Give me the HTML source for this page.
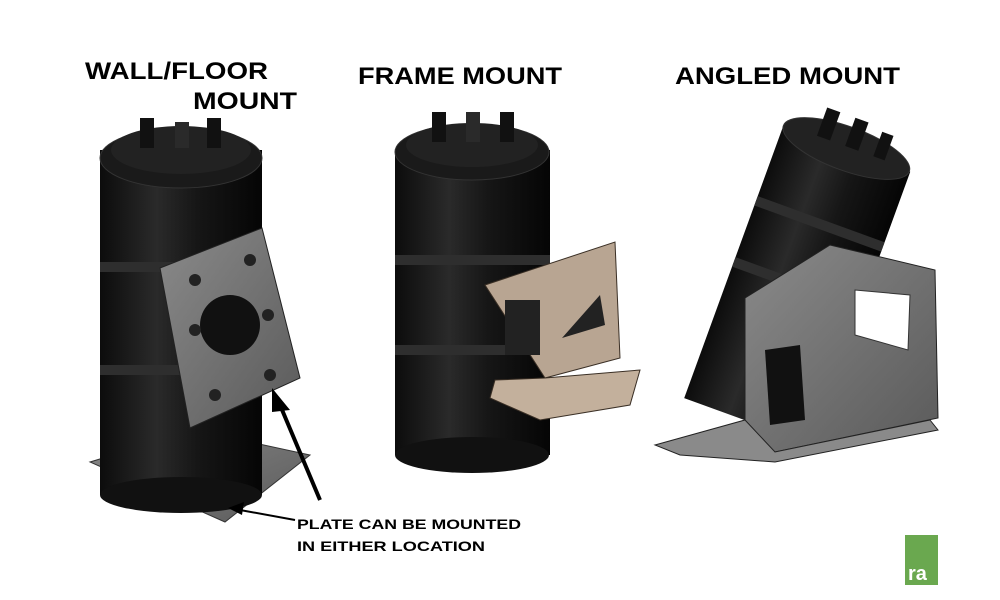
<!DOCTYPE html>
<html><head><style>
html,body{margin:0;padding:0;background:#fff;}
svg{display:block}
.t{font-family:"Liberation Sans",sans-serif;font-weight:bold;fill:#000}
</style></head><body>
<svg width="1000" height="600" viewBox="0 0 1000 600" xmlns="http://www.w3.org/2000/svg">
<defs>
<linearGradient id="cyl" x1="0" x2="1" y1="0" y2="0">
<stop offset="0" stop-color="#0c0c0c"/><stop offset="0.35" stop-color="#2a2a2a"/><stop offset="0.6" stop-color="#161616"/><stop offset="1" stop-color="#050505"/>
</linearGradient>
<linearGradient id="gray" x1="0" x2="1" y1="0" y2="1">
<stop offset="0" stop-color="#8a8a8a"/><stop offset="1" stop-color="#5a5a5a"/>
</linearGradient>
</defs>
<rect width="1000" height="600" fill="#fff"/>
<text class="t" x="85" y="79" font-size="24" textLength="183" lengthAdjust="spacingAndGlyphs">WALL/FLOOR</text>
<text class="t" x="193" y="109" font-size="24" textLength="104" lengthAdjust="spacingAndGlyphs">MOUNT</text>
<text class="t" x="358" y="84" font-size="24" textLength="204" lengthAdjust="spacingAndGlyphs">FRAME MOUNT</text>
<text class="t" x="675" y="84" font-size="24" textLength="225" lengthAdjust="spacingAndGlyphs">ANGLED MOUNT</text>

<!-- Cylinder 1 -->
<polygon points="90,462 195,430 310,455 225,522" fill="url(#gray)" stroke="#333"/>
<rect x="100" y="150" width="162" height="345" fill="url(#cyl)"/>
<ellipse cx="181" cy="495" rx="81" ry="18" fill="#111"/>
<ellipse cx="181" cy="158" rx="81" ry="30" fill="#1a1a1a" stroke="#333"/>
<ellipse cx="181" cy="150" rx="70" ry="24" fill="#222"/>
<rect x="140" y="118" width="14" height="30" fill="#111"/><rect x="175" y="122" width="14" height="26" fill="#2a2a2a"/><rect x="207" y="118" width="14" height="30" fill="#111"/>
<rect x="100" y="262" width="162" height="10" fill="#2e2e2e"/><rect x="100" y="365" width="162" height="10" fill="#2e2e2e"/>
<polygon points="160,268 262,228 300,378 190,428" fill="url(#gray)" stroke="#222"/>
<circle cx="230" cy="325" r="30" fill="#111"/>
<g fill="#222"><circle cx="195" cy="280" r="6"/><circle cx="250" cy="260" r="6"/><circle cx="270" cy="375" r="6"/><circle cx="215" cy="395" r="6"/><circle cx="195" cy="330" r="6"/><circle cx="268" cy="315" r="6"/></g>
<!-- arrows -->
<line x1="320" y1="500" x2="280" y2="405" stroke="#000" stroke-width="4"/>
<polygon points="272,388 290,410 272,412" fill="#000"/>
<line x1="295" y1="520" x2="240" y2="510" stroke="#000" stroke-width="2"/>
<polygon points="228,508 244,502 242,515" fill="#000"/>
<text class="t" x="297" y="529" font-size="14" textLength="224" lengthAdjust="spacingAndGlyphs">PLATE CAN BE MOUNTED</text>
<text class="t" x="297" y="551" font-size="14" textLength="188" lengthAdjust="spacingAndGlyphs">IN EITHER LOCATION</text>

<!-- Cylinder 2 -->
<rect x="395" y="150" width="155" height="305" fill="url(#cyl)"/>
<ellipse cx="472" cy="455" rx="77" ry="18" fill="#111"/>
<ellipse cx="472" cy="152" rx="77" ry="28" fill="#1a1a1a" stroke="#333"/>
<ellipse cx="472" cy="145" rx="66" ry="22" fill="#222"/>
<rect x="432" y="112" width="14" height="30" fill="#111"/><rect x="466" y="112" width="14" height="30" fill="#2a2a2a"/><rect x="500" y="112" width="14" height="30" fill="#111"/>
<rect x="395" y="255" width="155" height="10" fill="#2e2e2e"/><rect x="395" y="345" width="155" height="10" fill="#2e2e2e"/>
<polygon points="485,285 615,242 620,358 545,378" fill="#b8a592" stroke="#3a2f25"/>
<polygon points="495,380 545,378 640,370 630,405 540,420 490,398" fill="#c3b09c" stroke="#3a2f25"/>
<polygon points="562,338 600,295 605,325" fill="#222"/><rect x="505" y="300" width="35" height="55" fill="#222"/>

<!-- Cylinder 3 angled -->
<g transform="rotate(20 800 270)">
<rect x="735" y="140" width="135" height="290" fill="url(#cyl)"/>
<ellipse cx="802" cy="140" rx="67" ry="22" fill="#222" stroke="#333"/>
<rect x="770" y="108" width="14" height="30" fill="#111"/><rect x="800" y="108" width="14" height="30" fill="#111"/><rect x="830" y="112" width="12" height="26" fill="#111"/>
<rect x="735" y="215" width="135" height="10" fill="#2e2e2e"/><rect x="735" y="280" width="135" height="10" fill="#2e2e2e"/>
</g>
<polygon points="745,298 830,245 935,270 938,418 775,452 745,430" fill="url(#gray)" stroke="#222"/>
<polygon points="655,445 745,420 775,452 930,420 938,430 775,462 680,455" fill="#8a8a8a" stroke="#222"/>
<polygon points="855,290 910,295 908,350 855,335" fill="#fff" stroke="#333"/>
<polygon points="765,350 800,345 805,420 770,425" fill="#111"/>

<!-- logo -->
<rect x="905" y="535" width="33" height="50" fill="#6aa84f"/>
<text x="908" y="580" font-family="Liberation Sans,sans-serif" font-weight="bold" font-size="20" fill="#fff">ra</text>
</svg>
</body></html>
